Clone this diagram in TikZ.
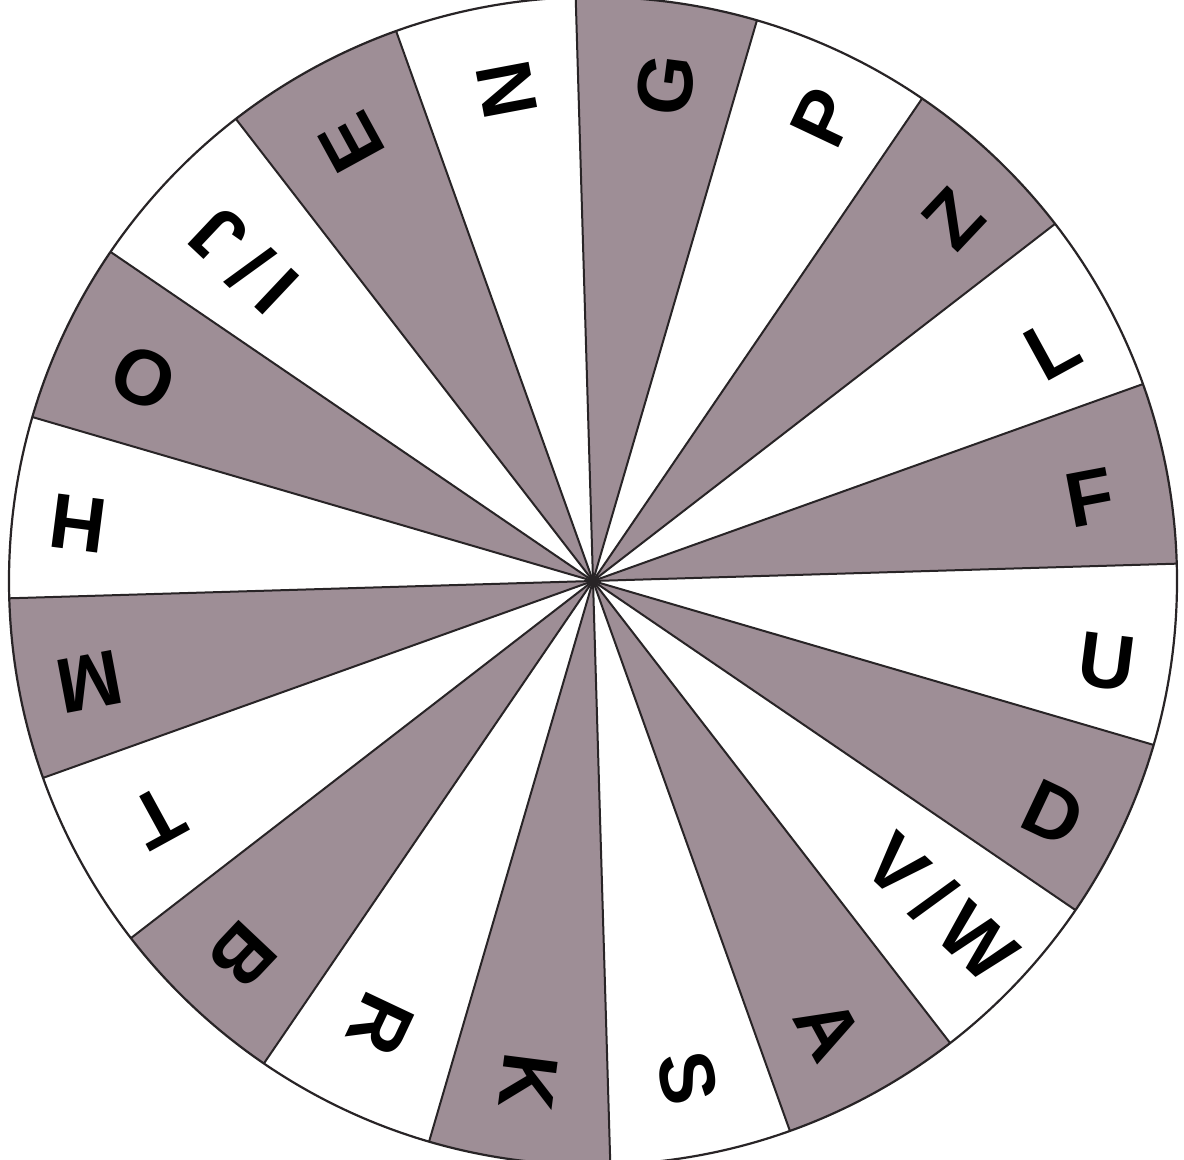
\documentclass[tikz,border=0pt]{standalone}
\usepackage{fontspec}
\setmainfont{Liberation Sans}
\usetikzlibrary{calc}
\definecolor{wheelgrey}{RGB}{158,142,150}
\definecolor{wheelline}{RGB}{40,36,38}
\newcommand{\lblIJ}{I\,/\,J}
\newcommand{\lblVW}{V\,/\,W}
\tikzset{
  sectorline/.style={draw=wheelline, line width=1pt},
  rimline/.style={draw=wheelline, line width=1.1pt},
  letter/.style={anchor=center, inner sep=0pt, text height=27.9pt, text depth=0pt,
    font=\bfseries\fontsize{39}{39}\selectfont, text=black}
}
\begin{document}
\begin{tikzpicture}[x=0.5pt,y=0.5pt]
\useasboundingbox (0,0) rectangle (1184,1160);
\fill[white] (0,0) rectangle (1184,1160);
\coordinate (c) at (593,579);
\def\R{584}
\foreach \i in {0,2,...,18}{
  \pgfmathsetmacro{\sa}{1.7+18*\i}
  \pgfmathsetmacro{\ea}{19.7+18*\i}
  \fill[wheelgrey] (c) -- ($(c)+(\sa:\R)$) arc[start angle=\sa, end angle=\ea, radius=\R] -- cycle;
}
\foreach \i in {0,...,19}{
  \pgfmathsetmacro{\sa}{1.7+18*\i}
  \coordinate (s\i) at ($(c)+(\sa:\R)$);
  \draw[sectorline] (c) -- (s\i);
}
\draw[rimline] (c) circle[radius=\R];
\foreach \t/\a/\x/\y [count=\k] in {
  F/10.7/1090/497, L/28.7/1052/348, Z/46.7/953/218, P/64.7/822/117,
  G/82.7/665/85, N/100.7/506/90, E/118.7/351/143, \lblIJ/136.7/243/261,
  O/154.7/143/379, H/172.7/78/525, M/190.7/90/683, T/208.7/158/818,
  B/226.7/243/956, R/244.7/382/1025, K/262.7/530/1082, S/280.7/689/1078,
  A/298.7/829/1029, \lblVW/316.7/942/907, D/334.7/1054/812, U/352.7/1107/660}{
  \node[letter, rotate=\a] (l\k) at (\x,{1160-\y}) {\t};
}
\end{tikzpicture}
\end{document}
